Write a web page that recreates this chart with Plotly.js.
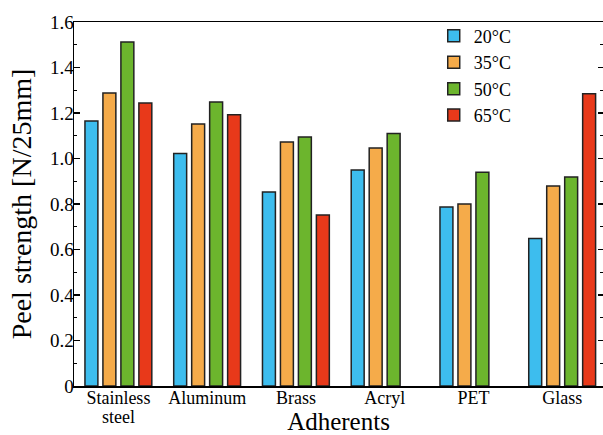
<!DOCTYPE html>
<html>
<head>
<meta charset="utf-8">
<script src="https://cdn.plot.ly/plotly-3.0.1.min.js"></script>
<style>
html,body{margin:0;padding:0;overflow:hidden;background:#fff;}
#chart{width:603px;height:435px;}
</style>
</head>
<body>
<div id="chart"></div>
<script>
const categories = ["Stainless steel", "Aluminum", "Brass", "Acryl", "PET", "Glass"];
const tickLabels = ["Stainless", "Aluminum", "Brass", "Acryl", "PET", "Glass"];
const secondLineLabel = "steel";
const seriesNames = ["20°C", "35°C", "50°C", "65°C"];
const values20 = [1.165, 1.022, 0.853, 0.950, 0.787, 0.648];
const values35 = [1.288, 1.152, 1.072, 1.046, 0.800, 0.879];
const values50 = [1.512, 1.248, 1.095, 1.110, 0.940, 0.919];
const values65 = [1.244, 1.192, 0.752, null, null, 1.285];
const yTickVals = [0, 0.2, 0.4, 0.6, 0.8, 1.0, 1.2, 1.4, 1.6];
const yTickText = ["0", "0.2", "0.4", "0.6", "0.8", "1.0", "1.2", "1.4", "1.6"];

const colors = ["#3dbdee", "#f5ab4a", "#6cb52d", "#e8391a"];
const allValues = [values20, values35, values50, values65];

const traces = allValues.map((v, i) => ({
  type: "bar",
  name: seriesNames[i],
  x: categories,
  y: v,
  marker: {color: colors[i], line: {color: "#222", width: 1.5}},
  hoverinfo: "skip"
}));
// invisible trace on a second y-axis, only to carry the right-hand inward ticks
traces.push({
  type: "scatter", x: [categories[0]], y: [null], yaxis: "y2",
  showlegend: false, hoverinfo: "skip"
});

const serif = "Liberation Serif";

const layout = {
  width: 603,
  height: 435,
  margin: {l: 74, r: 0, t: 22, b: 49},
  paper_bgcolor: "#fff",
  plot_bgcolor: "#fff",
  barmode: "group",
  bargap: 0.19,
  bargroupgap: 0.28,
  showlegend: true,
  font: {family: serif, color: "#000"},
  legend: {
    x: 0.68, y: 1.012, xanchor: "left", yanchor: "top",
    bgcolor: "rgba(0,0,0,0)",
    font: {family: serif, size: 18, color: "#000"},
    tracegroupgap: 0,
    itemwidth: 30
  },
  annotations: [{
    text: secondLineLabel, x: categories[0], xref: "x", y: -0.084, yref: "paper",
    xanchor: "center", yanchor: "middle", showarrow: false,
    font: {family: serif, size: 18, color: "#000"}
  }],
  xaxis: {
    type: "category",
    range: [-0.5, 5.46],
    tickvals: categories,
    ticktext: tickLabels,
    showline: true, linecolor: "#000", linewidth: 1.5,
    mirror: true,
    ticks: "",
    ticklabelstandoff: -5,
    tickfont: {family: serif, size: 18, color: "#000"},
    title: {text: "Adherents", font: {family: serif, size: 25, color: "#000"}, standoff: 7},
    showgrid: false,
    zeroline: false
  },
  yaxis: {
    range: [0, 1.6],
    tickvals: yTickVals,
    ticktext: yTickText,
    showline: true, linecolor: "#000", linewidth: 1.5,
    ticks: "inside", ticklen: 6, tickwidth: 1.2, tickcolor: "#000",
    minor: {dtick: 0.1, ticks: "inside", ticklen: 3, tickwidth: 1, tickcolor: "#000", showgrid: false},
    tickfont: {family: serif, size: 19, color: "#000"},
    ticklabelstandoff: -5,
    title: {text: "Peel strength [N/25mm]", font: {family: serif, size: 28, color: "#000"}, standoff: 10},
    showgrid: false,
    zeroline: false
  },
  yaxis2: {
    overlaying: "y", side: "right",
    range: [0, 1.6],
    tickvals: yTickVals,
    showticklabels: false,
    showline: false,
    ticks: "inside", ticklen: 5, tickwidth: 1.2, tickcolor: "#000",
    minor: {dtick: 0.1, ticks: "inside", ticklen: 3, tickwidth: 1, tickcolor: "#000", showgrid: false},
    showgrid: false,
    zeroline: false
  }
};

Plotly.newPlot("chart", traces, layout, {displayModeBar: false, staticPlot: true});
</script>
</body>
</html>
